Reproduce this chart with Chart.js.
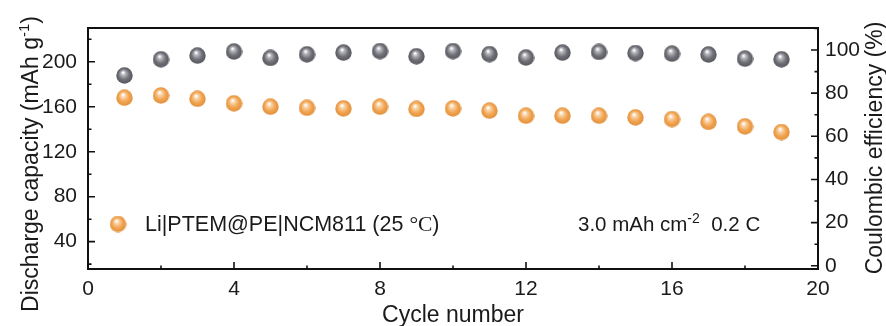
<!DOCTYPE html>
<html>
<head>
<meta charset="utf-8">
<script src="https://cdn.jsdelivr.net/npm/chart.js@4/dist/chart.umd.min.js"></script>
<style>
  html, body { margin: 0; padding: 0; background: #fff; }
  canvas { display: block; }
</style>
</head>
<body>
<canvas id="cycling" width="886" height="326"></canvas>
<script>
// cycling data
const cycles = [1, 2, 3, 4, 5, 6, 7, 8, 9, 10, 11, 12, 13, 14, 15, 16, 17, 18, 19];
const capacity = [168, 170, 167, 163, 160, 159, 158.5, 160, 158, 158.5, 156.5, 152, 152, 152, 150.5, 149, 146.5, 142.5, 137.5];
const efficiency = [88.2, 95.7, 97.4, 99.3, 96.3, 98.0, 98.8, 99.5, 97.1, 99.5, 98.1, 96.5, 98.8, 99.1, 98.6, 98.3, 97.9, 96.0, 95.7];

const cycleTicks = [0, 4, 8, 12, 16, 20];
const capacityTicks = [40, 80, 120, 160, 200];
const efficiencyTicks = [0, 20, 40, 60, 80, 100];

const seriesLabel = 'Li|PTEM@PE|NCM811 (25 ';
const conditionLabel = '3.0 mAh cm';

const SANS = "'Liberation Sans', Arial, sans-serif";
const SERIF = "'Liberation Serif', 'Times New Roman', serif";

// shaded ball used as point marker
function makeBall(light, base, dark) {
  const size = 17;
  const c = document.createElement('canvas');
  c.width = size; c.height = size;
  const g = c.getContext('2d');
  const r = size / 2;
  const grad = g.createRadialGradient(r - 1.5, r - 3, 0.5, r, r, r);
  grad.addColorStop(0, '#ffffff');
  grad.addColorStop(0.22, light);
  grad.addColorStop(0.6, base);
  grad.addColorStop(1, dark);
  g.fillStyle = grad;
  g.beginPath();
  g.arc(r, r, r - 0.3, 0, Math.PI * 2);
  g.fill();
  return c;
}
const orangeBall = makeBall('#f9d3a8', '#f2a552', '#e08f3a');
const grayBall = makeBall('#b4b4ba', '#707078', '#55555c');

// draws a row of text pieces, some raised as superscripts
function drawRuns(ctx, runs, x, y, align) {
  let total = 0;
  runs.forEach(r => { ctx.font = r.font; total += ctx.measureText(r.text).width; });
  let cx = align === 'center' ? x - total / 2 : x;
  runs.forEach(r => {
    ctx.font = r.font;
    ctx.fillText(r.text, cx, y + (r.dy || 0));
    cx += ctx.measureText(r.text).width;
  });
}

function minorValues(major, min, max) {
  const step = major[1] - major[0];
  const out = [];
  for (let v = major[0] - step / 2; v <= max; v += step) {
    if (v >= min && !major.includes(v)) out.push(v);
  }
  return out;
}

const framePlugin = {
  id: 'frame',
  afterDraw(chart) {
    const { ctx, chartArea: a, scales } = chart;
    ctx.save();
    ctx.strokeStyle = '#111';
    ctx.lineWidth = 2;
    ctx.strokeRect(a.left, a.top, a.right - a.left, a.bottom - a.top);

    ctx.lineWidth = 1.6;
    ctx.beginPath();
    const xs = scales.x, yl = scales.y, yr = scales.y1;
    const mark = (vals, len) => ({ vals, len });
    [mark(cycleTicks, 7), mark(minorValues(cycleTicks, xs.min, xs.max), 3.5)].forEach(m => {
      m.vals.forEach(v => {
        const px = xs.getPixelForValue(v);
        ctx.moveTo(px, a.bottom); ctx.lineTo(px, a.bottom - m.len);
      });
    });
    [mark(capacityTicks, 7), mark(minorValues(capacityTicks, yl.min, yl.max), 3.5)].forEach(m => {
      m.vals.forEach(v => {
        const py = yl.getPixelForValue(v);
        ctx.moveTo(a.left, py); ctx.lineTo(a.left + m.len, py);
      });
    });
    [mark(efficiencyTicks, 7), mark(minorValues(efficiencyTicks, yr.min, yr.max), 3.5)].forEach(m => {
      m.vals.forEach(v => {
        const py = yr.getPixelForValue(v);
        ctx.moveTo(a.right, py); ctx.lineTo(a.right - m.len, py);
      });
    });
    ctx.stroke();

    ctx.fillStyle = '#1a1a1a';
    ctx.textBaseline = 'alphabetic';

    // axis titles
    ctx.textAlign = 'left';
    drawRuns(ctx, [{ text: 'Cycle number', font: '23px ' + SANS }], (a.left + a.right) / 2, 322, 'center');

    ctx.save();
    ctx.translate(38, 164);
    ctx.rotate(-Math.PI / 2);
    drawRuns(ctx, [
      { text: 'Discharge capacity (mAh g', font: '23px ' + SANS },
      { text: '-1', font: '15px ' + SANS, dy: -9 },
      { text: ')', font: '23px ' + SANS }
    ], 0, 0, 'center');
    ctx.restore();

    ctx.save();
    ctx.translate(882, 148);
    ctx.rotate(-Math.PI / 2);
    drawRuns(ctx, [{ text: 'Coulombic efficiency (%)', font: '23px ' + SANS }], 0, 0, 'center');
    ctx.restore();

    // series key inside the plot
    ctx.drawImage(orangeBall, 118 - orangeBall.width / 2, 224 - orangeBall.height / 2);
    drawRuns(ctx, [
      { text: seriesLabel, font: '21.5px ' + SANS },
      { text: '\u00B0C', font: '21.5px ' + SERIF },
      { text: ')', font: '21.5px ' + SANS }
    ], 145, 231, 'left');

    drawRuns(ctx, [
      { text: conditionLabel, font: '20.5px ' + SANS },
      { text: '-2', font: '14px ' + SANS, dy: -8 },
      { text: '  0.2 C', font: '20.5px ' + SANS }
    ], 578, 231, 'left');

    ctx.restore();
  }
};

const tickFont = { family: SANS, size: 21 };
const fixTicks = vals => scale => { scale.ticks = vals.map(v => ({ value: v })); };

new Chart(document.getElementById('cycling'), {
  type: 'scatter',
  data: {
    datasets: [
      {
        label: 'Discharge capacity',
        data: cycles.map((c, i) => ({ x: c, y: capacity[i] })),
        yAxisID: 'y',
        pointStyle: orangeBall,
        pointRadius: 8.5
      },
      {
        label: 'Coulombic efficiency',
        data: cycles.map((c, i) => ({ x: c, y: efficiency[i] })),
        yAxisID: 'y1',
        pointStyle: grayBall,
        pointRadius: 8.5
      }
    ]
  },
  options: {
    responsive: false,
    devicePixelRatio: 1,
    animation: false,
    layout: { padding: { top: 28, left: 0, right: 0, bottom: 0 } },
    plugins: { legend: { display: false }, tooltip: { enabled: false } },
    scales: {
      x: {
        type: 'linear',
        position: 'bottom',
        min: 0,
        max: 20,
        afterBuildTicks: fixTicks(cycleTicks),
        afterFit: s => { s.height = 57; },
        grid: { display: false, drawTicks: false },
        border: { display: false },
        ticks: { font: tickFont, color: '#1a1a1a', padding: 8, maxRotation: 0 }
      },
      y: {
        position: 'left',
        min: 15.7,
        max: 230,
        afterBuildTicks: fixTicks(capacityTicks),
        afterFit: s => { s.width = 88; },
        grid: { display: false, drawTicks: false },
        border: { display: false },
        ticks: { font: tickFont, color: '#1a1a1a', padding: 11 }
      },
      y1: {
        position: 'right',
        min: -1.5,
        max: 110.2,
        afterBuildTicks: fixTicks(efficiencyTicks),
        afterFit: s => { s.width = 68; },
        grid: { display: false, drawTicks: false },
        border: { display: false },
        ticks: { font: tickFont, color: '#1a1a1a', padding: 7 }
      }
    }
  },
  plugins: [framePlugin]
});
</script>
</body>
</html>
